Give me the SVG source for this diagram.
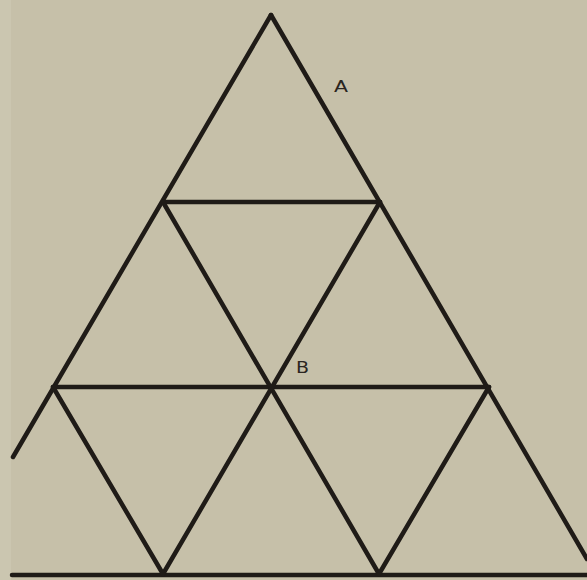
<svg xmlns="http://www.w3.org/2000/svg" width="587" height="580" viewBox="0 0 587 580">
<style>
.ln{stroke:#1f1b17;stroke-width:4.5;stroke-linecap:round;fill:none}
.lb{font-family:"DejaVu Sans","Liberation Sans",sans-serif;font-size:15px;fill:#2a2520}
</style>
<rect width="587" height="580" fill="#c6c0a9"/>
<rect width="11" height="580" fill="#cbc6b0"/>
<g id="connectors">
<line class="ln" x1="271" y1="15" x2="13" y2="457"/>
<line class="ln" x1="271" y1="15" x2="587" y2="559"/>
<line class="ln" x1="163" y1="202" x2="380" y2="202"/>
<line class="ln" x1="53" y1="387" x2="489" y2="387"/>
<line class="ln" x1="12" y1="575" x2="587" y2="575"/>
<line class="ln" x1="163" y1="202" x2="379" y2="574"/>
<line class="ln" x1="380" y1="202" x2="163" y2="574"/>
<line class="ln" x1="53" y1="387" x2="163" y2="574"/>
<line class="ln" x1="489" y1="387" x2="379" y2="574"/>
</g>
<g id="label-A"><text class="lb" x="334" y="92" textLength="14" lengthAdjust="spacingAndGlyphs">A</text></g>
<g id="label-B"><text class="lb" x="296" y="373" textLength="13" lengthAdjust="spacingAndGlyphs">B</text></g>
</svg>
